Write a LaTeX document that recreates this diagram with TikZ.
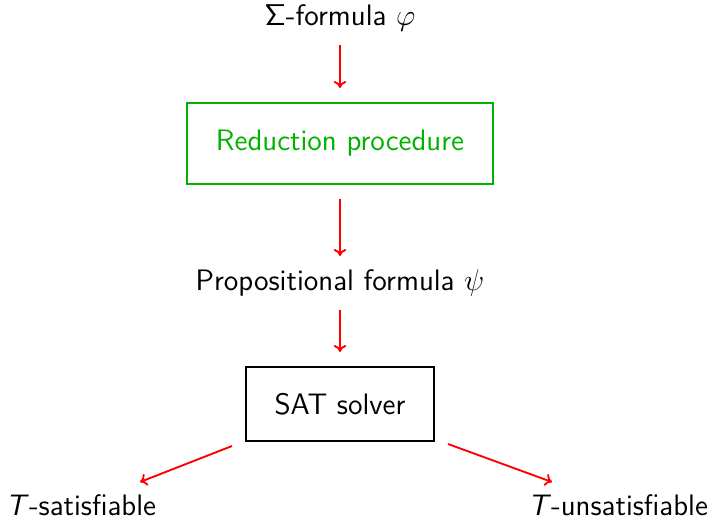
\documentclass[tikz,border=0pt]{standalone}
\usetikzlibrary{arrows.meta}
\begin{document}
\begin{tikzpicture}[x=0.4pt,y=-0.4pt,
  every node/.style={font=\sffamily\fontsize{11.85}{14}\selectfont},
  lbl/.style={inner sep=0pt},
  boxg/.style={draw=green!70!black,text=green!70!black,line width=0.8pt,minimum width=306*0.4pt,minimum height=81*0.4pt,inner sep=0pt},
  boxk/.style={draw=black,line width=0.8pt,minimum width=188*0.4pt,minimum height=74*0.4pt,inner sep=0pt},
  arr/.style={draw=red,line width=0.75pt,-{To[length=2.8pt,width=5pt]}}]
\useasboundingbox (0,0) rectangle (710,519);
\node[lbl] (f) at (340,18) {$\mathsf{\Sigma}$-formula $\varphi$};
\node[boxg] (r) at (340,143.5) {Reduction procedure};
\node[lbl] (p) at (340,283) {Propositional formula $\psi$};
\node[boxk] (s) at (340,404) {SAT solver};
\node[lbl] (ts) at (81,505) {\textit{T}-satisfiable};
\node[lbl] (tu) at (618,505) {\textit{T}-unsatisfiable};
\coordinate (a1s) at (340,45); \coordinate (a1e) at (340,88);
\coordinate (a2s) at (340,199); \coordinate (a2e) at (340,256);
\coordinate (a3s) at (340,310); \coordinate (a3e) at (340,352);
\coordinate (a4s) at (232,446); \coordinate (a4e) at (140,482);
\coordinate (a5s) at (448,444); \coordinate (a5e) at (552,482);
\draw[arr] (a1s) -- (a1e);
\draw[arr] (a2s) -- (a2e);
\draw[arr] (a3s) -- (a3e);
\draw[arr] (a4s) -- (a4e);
\draw[arr] (a5s) -- (a5e);
\end{tikzpicture}
\end{document}
